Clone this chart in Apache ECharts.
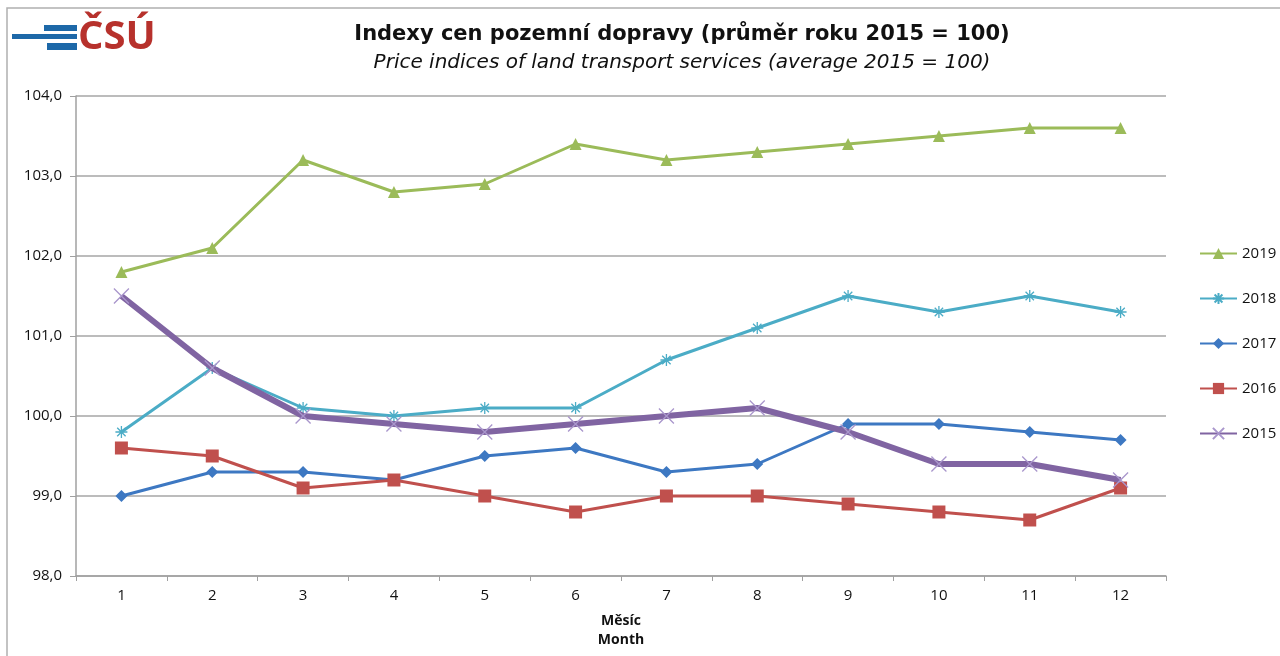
<!DOCTYPE html>
<html><head><meta charset="utf-8">
<script src="https://cdn.jsdelivr.net/npm/echarts@6/dist/echarts.min.js"></script>
<style>html,body{margin:0;padding:0;background:#fff}#c{width:1280px;height:656px}</style>
</head><body><div id="c"></div>
<script>
const months = ['1','2','3','4','5','6','7','8','9','10','11','12'];
const y2019 = [101.8,102.1,103.2,102.8,102.9,103.4,103.2,103.3,103.4,103.5,103.6,103.6];
const y2018 = [99.8,100.6,100.1,100.0,100.1,100.1,100.7,101.1,101.5,101.3,101.5,101.3];
const y2017 = [99.0,99.3,99.3,99.2,99.5,99.6,99.3,99.4,99.9,99.9,99.8,99.7];
const y2016 = [99.6,99.5,99.1,99.2,99.0,98.8,99.0,99.0,98.9,98.8,98.7,99.1];
const y2015 = [101.5,100.6,100.0,99.9,99.8,99.9,100.0,100.1,99.8,99.4,99.4,99.2];
const yTicks = {min:98, max:104, interval:1};

const font = 'Open Sans';
const tfont = 'DejaVu Sans';
const chart = echarts.init(document.getElementById('c'), null, {renderer:'canvas'});
const star = 'path://M0,5 L10,5 M5,0 L5,10 M1.5,1.5 L8.5,8.5 M8.5,1.5 L1.5,8.5';
const cross = 'path://M0,0 L10,10 M10,0 L0,10';
function ser(name, data, color, symbol, size, width, extra){
  return Object.assign({
    name, type:'line', data, symbol, symbolSize:size, showSymbol:true,
    lineStyle:{color, width}, itemStyle:{color},
    emphasis:{disabled:true}, animation:false, z:2
  }, extra||{});
}
chart.setOption({
  animation:false,
  title:[
    {text:'Indexy cen pozemní dopravy (průměr roku 2015 = 100)', left:677, top:19, textAlign:'center',
     textStyle:{fontFamily:tfont, fontSize:21, fontWeight:'bold', color:'#111'}},
    {text:'Price indices of land transport services (average 2015 = 100)', left:677, top:48, textAlign:'center',
     textStyle:{fontFamily:tfont, fontSize:20, fontStyle:'italic', fontWeight:'normal', color:'#111'}}
  ],
  graphic:[
    {type:'rect', shape:{x:7,y:8,width:1290,height:700}, style:{fill:'none', stroke:'#b0b0b0', lineWidth:1.5}, silent:true},
    {type:'rect', shape:{x:44,y:25,width:33,height:6}, style:{fill:'#1d68a8'}},
    {type:'rect', shape:{x:12,y:34,width:65,height:5}, style:{fill:'#1d68a8'}},
    {type:'rect', shape:{x:47,y:43,width:30,height:7}, style:{fill:'#1d68a8'}},
    {type:'text', left:78, top:18, style:{text:'ČSÚ', fill:'#b7312c', font:'bold 40px "Open Sans"'}}
  ],
  legend:{
    orient:'vertical', left:1194, top:241, itemWidth:37, itemHeight:14, itemGap:30,
    data:['2019','2018','2017','2016','2015'],
    textStyle:{fontFamily:font, fontSize:15, color:'#111'}, selectedMode:false
  },
  grid:{left:76, right:114, top:96, bottom:80, containLabel:false},
  xAxis:{
    type:'category', data:months, boundaryGap:true,
    name:'Měsíc\nMonth', nameLocation:'middle', nameGap:36,
    nameTextStyle:{fontFamily:font, fontSize:14, fontWeight:'bold', color:'#111', lineHeight:19},
    axisLine:{lineStyle:{color:'#a0a0a0', width:1.5}},
    axisTick:{show:true, alignWithLabel:false, length:5, lineStyle:{color:'#a0a0a0'}},
    axisLabel:{fontFamily:font, fontSize:15, color:'#111', margin:12},
    splitLine:{show:false}
  },
  yAxis:{
    type:'value', min:yTicks.min, max:yTicks.max, interval:yTicks.interval,
    axisLine:{show:true, lineStyle:{color:'#a0a0a0', width:1.5}},
    axisTick:{show:true, inside:false, length:6, lineStyle:{color:'#a0a0a0'}},
    axisLabel:{fontFamily:font, fontSize:15, color:'#111', margin:14,
      formatter:v=>v.toFixed(1).replace('.',',')},
    splitLine:{show:true, lineStyle:{color:'#a6a6a6', width:1.5}}
  },
  series:[
    ser('2019', y2019, '#9bbb59', 'triangle', 12, 3),
    ser('2018', y2018, '#4bacc6', star, 12, 3, {itemStyle:{color:'#4bacc6', borderColor:'#4bacc6', borderWidth:1.3}}),
    ser('2017', y2017, '#3d78c2', 'diamond', 12, 3),
    ser('2016', y2016, '#c0504d', 'rect', 13, 3),
    ser('2015', y2015, '#8064a2', cross, 15, 6, {itemStyle:{color:'#9f8cc4', borderColor:'#a996cc', borderWidth:1.3}, z:3})
  ]
});
</script></body></html>
